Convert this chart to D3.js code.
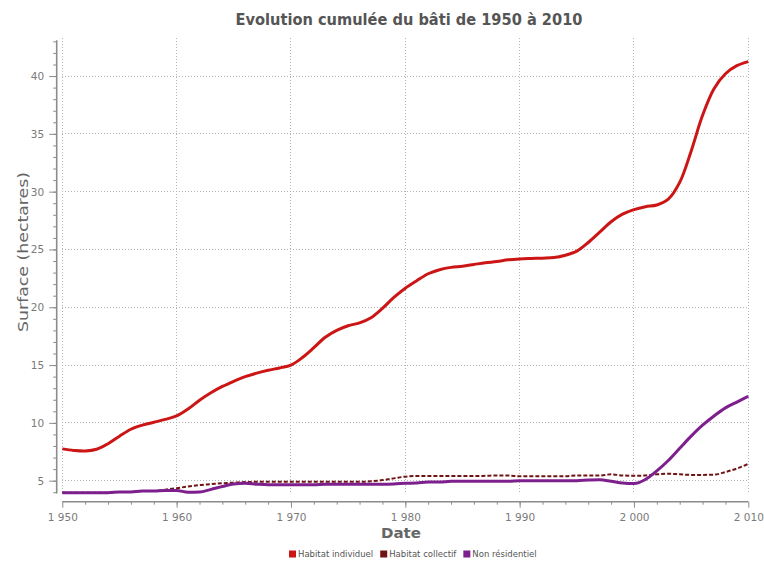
<!DOCTYPE html>
<html>
<head>
<meta charset="utf-8">
<script src="https://cdn.jsdelivr.net/npm/d3@7"></script>
<style>
  html, body { margin: 0; padding: 0; background: #fff; }
  svg { display: block; }
  text { font-family: "DejaVu Sans", Verdana, sans-serif; }
</style>
</head>
<body>
<svg id="chart" width="764" height="562"></svg>
<script>
// Années (axe des abscisses)
const years = [
  1950, 1951, 1952, 1953, 1954, 1955, 1956, 1957, 1958, 1959,
  1960, 1961, 1962, 1963, 1964, 1965, 1966, 1967, 1968, 1969,
  1970, 1971, 1972, 1973, 1974, 1975, 1976, 1977, 1978, 1979,
  1980, 1981, 1982, 1983, 1984, 1985, 1986, 1987, 1988, 1989,
  1990, 1991, 1992, 1993, 1994, 1995, 1996, 1997, 1998, 1999,
  2000, 2001, 2002, 2003, 2004, 2005, 2006, 2007, 2008, 2009, 2010
];

// Surface cumulée (hectares) par type de bâti
const habitatIndividuel = [
  7.75, 7.62, 7.57, 7.72, 8.20, 8.85, 9.45, 9.80, 10.05, 10.30,
  10.60, 11.20, 11.95, 12.60, 13.15, 13.60, 14.00, 14.30, 14.55, 14.75,
  15.00, 15.65, 16.50, 17.40, 18.00, 18.40, 18.65, 19.10, 19.90, 20.85,
  21.65, 22.30, 22.90, 23.25, 23.45, 23.55, 23.70, 23.85, 23.95, 24.10,
  24.18, 24.22, 24.25, 24.30, 24.50, 24.85, 25.60, 26.50, 27.40, 28.05,
  28.45, 28.70, 28.85, 29.35, 30.80, 33.50, 36.60, 38.90, 40.20, 40.90, 41.25
];
const habitatCollectif = [
  3.96, 3.96, 3.96, 3.96, 3.96, 4.03, 4.03, 4.10, 4.10, 4.22,
  4.35, 4.50, 4.62, 4.70, 4.78, 4.83, 4.88, 4.90, 4.90, 4.90,
  4.90, 4.90, 4.90, 4.90, 4.90, 4.90, 4.90, 4.95, 5.05, 5.20,
  5.35, 5.40, 5.40, 5.40, 5.40, 5.40, 5.40, 5.42, 5.45, 5.45,
  5.38, 5.38, 5.38, 5.38, 5.38, 5.45, 5.45, 5.45, 5.55, 5.45,
  5.42, 5.45, 5.55, 5.60, 5.55, 5.50, 5.50, 5.52, 5.75, 6.05, 6.45
];
const nonResidentiel = [
  3.96, 3.96, 3.96, 3.96, 3.96, 4.03, 4.03, 4.10, 4.10, 4.15,
  4.15, 4.00, 4.02, 4.25, 4.50, 4.72, 4.78, 4.70, 4.65, 4.65,
  4.65, 4.65, 4.65, 4.70, 4.70, 4.70, 4.70, 4.70, 4.70, 4.72,
  4.77, 4.80, 4.88, 4.88, 4.95, 4.95, 4.95, 4.95, 4.95, 4.95,
  5.00, 5.00, 5.00, 5.00, 5.00, 5.00, 5.05, 5.08, 4.95, 4.80,
  4.75, 5.10, 5.85, 6.75, 7.80, 8.85, 9.80, 10.60, 11.30, 11.80, 12.30
];

const seriesNames = ["Habitat individuel", "Habitat collectif", "Non résidentiel"];
const seriesColors = ["#cc1616", "#6e1414", "#7d1f8c"];

const yMajorTicks = [5, 10, 15, 20, 25, 30, 35, 40];
const xMajorTicks = [1950, 1960, 1970, 1980, 1990, 2000, 2010];

const svg = d3.select("#chart");

const x = d3.scaleLinear().domain([1950, 2010]).range([62.3, 748.3]);
const y = d3.scaleLinear().domain([3.9, 43.1]).range([493.4, 40.2]);

const frLocale = d3.formatLocale({ decimal: ",", thousands: " ", grouping: [3], currency: ["", " €"] });
const yearFmt = frLocale.format(",d");

// Grille pointillée
const grid = svg.append("g").attr("class", "grid");
grid.selectAll("line.h").data(yMajorTicks).join("line")
  .attr("x1", x(1950)).attr("x2", x(2010))
  .attr("y1", d => y(d)).attr("y2", d => y(d))
  .attr("stroke", "#b4b4b4").attr("stroke-width", 1)
  .attr("stroke-dasharray", "1,2")
  .attr("shape-rendering", "crispEdges");
grid.selectAll("line.v").data(xMajorTicks).join("line")
  .attr("x1", d => x(d)).attr("x2", d => x(d))
  .attr("y1", y.range()[1] - 2).attr("y2", y.range()[0])
  .attr("stroke", "#b4b4b4").attr("stroke-width", 1)
  .attr("stroke-dasharray", "1,2")
  .attr("shape-rendering", "crispEdges");

// Axe Y (décalé à gauche de la zone de tracé)
const yAxisG = svg.append("g").attr("transform", "translate(56.7,0)");
yAxisG.call(d3.axisLeft(y).tickValues(d3.range(4, 44)).tickSize(3.5).tickFormat("").tickSizeOuter(0));
yAxisG.call(g => g.select(".domain").remove());
const yMajor = svg.append("g").attr("transform", "translate(56.7,0)")
  .call(d3.axisLeft(y).tickValues(yMajorTicks).tickSize(7.5).tickPadding(5).tickSizeOuter(0));
svg.append("line")
  .attr("x1", 56.7).attr("x2", 56.7)
  .attr("y1", y.range()[1]).attr("y2", y.range()[0])
  .attr("stroke", "#8c8c8c").attr("stroke-width", 1.6);
[yAxisG, yMajor].forEach(g => {
  g.selectAll(".tick line").attr("stroke", "#8c8c8c").attr("stroke-width", 1);
});
yMajor.select(".domain").remove();
yMajor.selectAll(".tick text")
  .attr("fill", "#7a7a7a").attr("font-size", 10.5)
  .attr("font-family", "DejaVu Sans, Verdana, sans-serif");

// Axe X (décalé sous la zone de tracé)
const xAxisY = 501.7;
const xMinor = svg.append("g").attr("transform", `translate(0,${xAxisY})`)
  .call(d3.axisBottom(x).tickValues(d3.range(1952, 2010, 2)).tickSize(3).tickFormat("").tickSizeOuter(0));
xMinor.select(".domain").remove();
const xMajor = svg.append("g").attr("transform", `translate(0,${xAxisY})`)
  .call(d3.axisBottom(x).tickValues(xMajorTicks).tickSize(6).tickPadding(6).tickFormat(yearFmt).tickSizeOuter(0));
xMajor.select(".domain").remove();
svg.append("line")
  .attr("x1", x(1950)).attr("x2", x(2010))
  .attr("y1", xAxisY).attr("y2", xAxisY)
  .attr("stroke", "#8c8c8c").attr("stroke-width", 1.6);
[xMinor, xMajor].forEach(g => {
  g.selectAll(".tick line").attr("stroke", "#8c8c8c").attr("stroke-width", 1);
});
xMajor.selectAll(".tick text")
  .attr("fill", "#7a7a7a").attr("font-size", 10.5)
  .attr("font-family", "DejaVu Sans, Verdana, sans-serif");

// Courbes
const lineSmooth = d3.line()
  .x((d, i) => x(years[i]))
  .y(d => y(d))
  .curve(d3.curveCatmullRom.alpha(0.5));
const lineFlat = d3.line()
  .x((d, i) => x(years[i]))
  .y(d => y(d))
  .curve(d3.curveMonotoneX);

const lines = svg.append("g").attr("fill", "none").attr("stroke-linejoin", "round");
lines.append("path").datum(habitatIndividuel)
  .attr("d", lineSmooth).attr("stroke", seriesColors[0]).attr("stroke-width", 3);
lines.append("path").datum(habitatCollectif)
  .attr("d", lineFlat).attr("stroke", seriesColors[1]).attr("stroke-width", 2)
  .attr("stroke-dasharray", "4,2");
lines.append("path").datum(nonResidentiel)
  .attr("d", lineFlat).attr("stroke", seriesColors[2]).attr("stroke-width", 3);

// Titres
svg.append("text")
  .attr("x", 409).attr("y", 25)
  .attr("text-anchor", "middle")
  .attr("font-size", 15).attr("font-weight", "bold").attr("fill", "#555")
  .attr("textLength", 347).attr("lengthAdjust", "spacingAndGlyphs")
  .text("Evolution cumulée du bâti de 1950 à 2010");

svg.append("text")
  .attr("transform", "translate(28,252) rotate(-90)")
  .attr("text-anchor", "middle")
  .attr("font-size", 14).attr("fill", "#666")
  .attr("textLength", 160).attr("lengthAdjust", "spacingAndGlyphs")
  .text("Surface (hectares)");

svg.append("text")
  .attr("x", 401).attr("y", 538)
  .attr("text-anchor", "middle")
  .attr("font-size", 14.5).attr("font-weight", "bold").attr("fill", "#666")
  .attr("textLength", 40).attr("lengthAdjust", "spacingAndGlyphs")
  .text("Date");

// Légende
const legend = svg.append("g").attr("transform", "translate(289,554)");
let lx = 0;
seriesNames.forEach((name, i) => {
  const item = legend.append("g").attr("transform", `translate(${lx},0)`);
  item.append("rect").attr("x", 0).attr("y", -3.5).attr("width", 7).attr("height", 7)
    .attr("fill", seriesColors[i]);
  const t = item.append("text").attr("x", 9).attr("y", 3)
    .attr("font-size", 8.5).attr("fill", "#555")
    .attr("font-family", "Liberation Sans, Arial, sans-serif")
    .text(name);
  lx += 9 + t.node().getComputedTextLength() + 7;
});
</script>
</body>
</html>
